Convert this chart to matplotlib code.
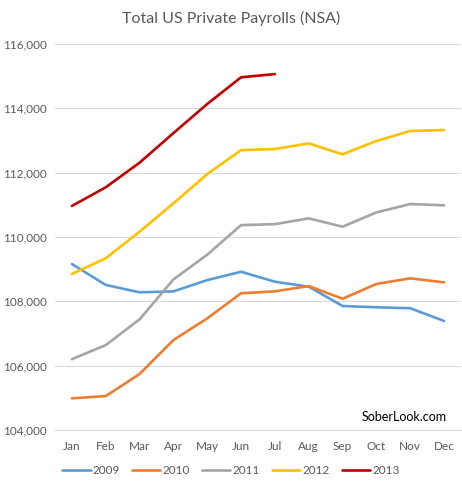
import matplotlib.pyplot as plt
from matplotlib.ticker import FuncFormatter

plt.rcParams.update({
    "font.family": ["Lato", "DejaVu Sans"],
    "font.size": 8.5
})

months = ['Jan', 'Feb', 'Mar', 'Apr', 'May', 'Jun',
          'Jul', 'Aug', 'Sep', 'Oct', 'Nov', 'Dec']

# private payrolls, thousands
p2009 = [109160, 108510, 108280, 108310, 108660, 108920,
         108610, 108455, 107855, 107815, 107785, 107390]
p2010 = [104985, 105055, 105740, 106795, 107470, 108250,
         108310, 108475, 108080, 108540, 108715, 108590]
p2011 = [106200, 106640, 107440, 108680, 109450, 110370,
         110400, 110580, 110320, 110765, 111025, 110985]
p2012 = [108850, 109340, 110165, 111045, 111955, 112700,
         112735, 112910, 112570, 112985, 113295, 113325]
p2013 = [110965, 111545, 112310, 113230, 114135, 114965, 115065]

series = [("2009", p2009, "#5B9BD5"),
          ("2010", p2010, "#ED7D31"),
          ("2011", p2011, "#A5A5A5"),
          ("2012", p2012, "#FFC000"),
          ("2013", p2013, "#C00000")]

fig = plt.figure(figsize=(4.62, 4.91), dpi=100)
ax = fig.add_axes([55 / 462, 1 - 430 / 491, (461 - 55) / 462, (430 - 44) / 491])

for label, vals, color in series:
    ax.plot(range(len(vals)), vals, color=color, linewidth=1.9,
            solid_capstyle='round', solid_joinstyle='round', label=label)

ax.set_xlim(-0.5, 11.5)
ax.set_ylim(104000, 116000)
ax.set_yticks(range(104000, 116001, 2000))
ax.yaxis.set_major_formatter(FuncFormatter(lambda v, p: f"{int(v):,}"))
ax.set_xticks(range(12))
ax.set_xticklabels(months)
ax.grid(axis='y', color='#D9D9D9', linewidth=0.8)
ax.set_axisbelow(True)
for s in ['top', 'right', 'left']:
    ax.spines[s].set_visible(False)
ax.spines['bottom'].set_color('#D9D9D9')
ax.spines['bottom'].set_linewidth(0.8)
ax.tick_params(axis='both', length=0, colors='#595959', labelsize=8.5)
ax.tick_params(axis='x', pad=8)
ax.tick_params(axis='y', pad=6)

fig.text(0.5, 1 - 18 / 491, "Total US Private Payrolls (NSA)", ha='center', va='center',
         fontsize=11.5, color='#595959')
ax.text(0.965, 0.018, "SoberLook.com", transform=ax.transAxes, ha='right', va='bottom',
        fontsize=9, color='black')

fig.legend(loc='center', bbox_to_anchor=(0.5, 1 - 471 / 491), ncol=5, frameon=False,
           handlelength=2.4, columnspacing=1.0, handletextpad=0.2, fontsize=8.5,
           labelcolor='#595959')

plt.savefig("out.png", dpi=100)
